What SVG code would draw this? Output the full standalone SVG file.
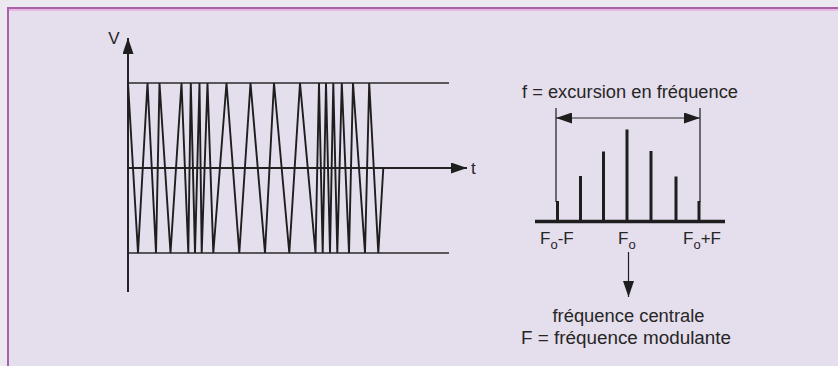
<svg xmlns="http://www.w3.org/2000/svg" width="838" height="366" viewBox="0 0 838 366">
  <style>
    .txt { font-family: "Liberation Sans", Arial, sans-serif; fill: #262626; }
    .thin { stroke: #2a2a2a; stroke-width: 1.3; fill: none; }
    .axis { stroke: #222; stroke-width: 2; fill: none; }
    .bar { stroke: #1e1e1e; stroke-width: 3; }
    .wave { stroke: #1e1e1e; stroke-width: 1.9; fill: none; stroke-linejoin: miter; }
  </style>
  <defs>
    <marker id="ah" viewBox="0 0 16 11" refX="16" refY="5.5" markerWidth="16" markerHeight="11" markerUnits="userSpaceOnUse" orient="auto-start-reverse">
      <path d="M0,0 L16,5.5 L0,11 Z" fill="#1e1e1e"/>
    </marker>
  </defs>
  <rect x="0" y="0" width="838" height="366" fill="#ebe9ef"/>
  <rect x="8" y="8" width="840" height="370" fill="#e5deec" stroke="#a860a8" stroke-width="2"/>
  <line x1="9" y1="10" x2="838" y2="10" stroke="#e8b8e0" stroke-width="2"/>

  <g id="time-graph">
    <line class="thin" x1="128" y1="83" x2="449" y2="83"/>
    <line class="thin" x1="128" y1="253" x2="449" y2="253"/>
    <line class="axis" x1="128" y1="292" x2="128" y2="38" marker-end="url(#ah)"/>
    <line class="axis" x1="128" y1="168" x2="467" y2="168" marker-end="url(#ah)"/>
    <text class="txt" x="114" y="44" font-size="17" text-anchor="middle">V</text>
    <text class="txt" x="471" y="174" font-size="17">t</text>
    <polyline class="wave" points="128,83 138,253 147.5,83 156,253 159.5,83 170.5,253 181.5,83 188.3,253 190.8,83 195,253 199.5,83 201.7,253 207.5,83 213.3,253 226.5,83 239.3,253 250.5,83 265,253 274,83 289.3,253 300,83 315.5,253 319,83 322.7,253 326,83 330,253 333.3,83 337.3,253 341.8,83 349,253 353,83 365,253 369.2,83 378.3,253 383.3,168"/>
  </g>

  <g id="spectrum">
    <text class="txt" x="630" y="98" font-size="17.5" text-anchor="middle" textLength="216" lengthAdjust="spacingAndGlyphs">f = excursion en fréquence</text>
    <line class="thin" x1="556" y1="108" x2="556" y2="202"/>
    <line class="thin" x1="700" y1="108" x2="700" y2="202"/>
    <line x1="556" y1="118" x2="700" y2="118" stroke="#2a2a2a" stroke-width="1.2" marker-start="url(#ah)" marker-end="url(#ah)"/>
    <line x1="535" y1="221.5" x2="725" y2="221.5" stroke="#1e1e1e" stroke-width="3.5"/>
    <line class="bar" x1="557.5" y1="201" x2="557.5" y2="221"/>
    <line class="bar" x1="580.5" y1="176" x2="580.5" y2="221"/>
    <line class="bar" x1="603.5" y1="151.5" x2="603.5" y2="221"/>
    <line class="bar" x1="627" y1="129.5" x2="627" y2="221"/>
    <line class="bar" x1="651" y1="151" x2="651" y2="221"/>
    <line class="bar" x1="676" y1="176.5" x2="676" y2="221"/>
    <line class="bar" x1="699" y1="201" x2="699" y2="221"/>
    <text class="txt" x="540" y="243.5" font-size="17">F<tspan font-size="13" dy="5">o</tspan><tspan dy="-5">-F</tspan></text>
    <text class="txt" x="618" y="243.5" font-size="17">F<tspan font-size="13" dy="5">o</tspan></text>
    <text class="txt" x="683" y="243.5" font-size="17">F<tspan font-size="13" dy="5">o</tspan><tspan dy="-5">+F</tspan></text>
  </g>

  <g id="connectors">
    <line x1="628.5" y1="252" x2="628.5" y2="297" stroke="#1e1e1e" stroke-width="1.2" marker-end="url(#ah)"/>
  </g>

  <g id="labels">
    <text class="txt" x="628.5" y="322" font-size="17.5" text-anchor="middle" textLength="152" lengthAdjust="spacingAndGlyphs">fréquence centrale</text>
    <text class="txt" x="626" y="344" font-size="17.5" text-anchor="middle" textLength="210" lengthAdjust="spacingAndGlyphs">F = fréquence modulante</text>
  </g>
</svg>
